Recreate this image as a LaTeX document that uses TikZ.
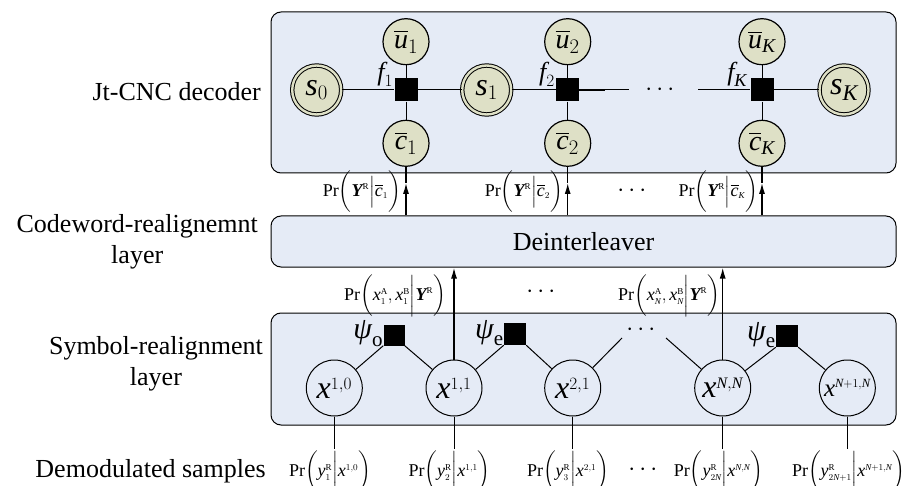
\documentclass[tikz,border=0pt]{standalone}
\usepackage{amsmath}
\usepackage{fontspec}
\setmainfont{Liberation Serif}
\usetikzlibrary{arrows.meta}

% italic and bold-italic symbols set in the text face
\newcommand{\ivar}[1]{\text{\itshape #1}}
\newcommand{\bvar}[1]{\text{\bfseries\itshape #1}}
\newcommand{\rsup}[1]{\text{\upshape #1}}

\definecolor{layerfill}{RGB}{229,235,246}
\definecolor{varfill}{RGB}{222,224,198}

\tikzset{
  layer/.style={draw, line width=1pt, rounded corners=10pt, fill=layerfill, inner sep=0pt},
  var/.style={circle, draw, line width=1.2pt, fill=varfill, minimum size=46pt, inner sep=0pt,
              font=\fontsize{28}{28}\selectfont},
  state/.style={circle, draw, line width=1pt, double=varfill, double distance=2.4pt, fill=varfill,
                minimum size=49pt, inner sep=0pt, font=\fontsize{32}{32}\selectfont},
  factor/.style={rectangle, fill=black, minimum size=23pt, inner sep=0pt},
  sym/.style={circle, draw, line width=1pt, minimum size=56pt, inner sep=0pt,
              font=\fontsize{32}{32}\selectfont},
  lab/.style={font=\fontsize{26}{31.5}\selectfont, align=center, anchor=east, inner sep=0pt},
  flab/.style={font=\fontsize{26}{26}\selectfont, inner sep=0pt},
  plab/.style={font=\fontsize{30}{30}\selectfont, inner sep=0pt},
  prob/.style={font=\fontsize{18}{18}\selectfont, inner sep=0pt},
  dotsn/.style={font=\fontsize{28}{28}\selectfont, inner sep=0pt},
  edge/.style={line width=1pt},
  arr/.style={line width=1.4pt, -{Latex[length=11pt,width=6pt]}}
}

\begin{document}
\begin{tikzpicture}[x=1pt,y=-1pt]
\useasboundingbox (0,0) rectangle (909,486);

% layer boxes
\node[layer, minimum width=625pt, minimum height=161pt] (dec) at (583.5,92.5) {};
\node[layer, minimum width=625pt, minimum height=51pt, font=\fontsize{26}{26}\selectfont]
  (deint) at (583.5,241.5) {Deinterleaver};
\node[layer, minimum width=625pt, minimum height=112pt] (symb) at (583.5,369) {};

% layer names
\node[lab] (tdec) at (261,91.7) {Jt-CNC decoder};
\node[lab] (tcw) at (258,242) {Codeword-realignemnt\\layer};
\node[lab] (tsym) at (263,364) {Symbol-realignment\\layer};
\node[lab] (tdem) at (266,471.7) {Demodulated samples};

% Jt-CNC decoder graph
\node[state] (s0) at (316.7,90) {$\ivar{s}_0$};
\node[factor] (f1) at (406,90) {};
\node[var] (u1) at (406,41.7) {$\overline{\ivar{u}}_1$};
\node[var] (c1) at (406,143.3) {$\overline{\ivar{c}}_1$};
\node[state] (s1) at (486.7,90) {$\ivar{s}_1$};
\node[factor] (f2) at (567.7,90) {};
\node[var] (u2) at (567.7,41.7) {$\overline{\ivar{u}}_2$};
\node[var] (c2) at (567.7,143.3) {$\overline{\ivar{c}}_2$};
\node[factor] (fK) at (762,90) {};
\node[var] (uK) at (762,41.7) {$\overline{\ivar{u}}_{\ivar{K}}$};
\node[var] (cK) at (762,143.3) {$\overline{\ivar{c}}_{\ivar{K}}$};
\node[state] (sK) at (844,90) {$\ivar{s}_{\ivar{K}}$};
\node[dotsn] (dd) at (662,90) {$\cdots$};

\node[flab, anchor=south east] (lf1) at ([xshift=-1pt,yshift=3pt]f1.west) {$\ivar{f}_1$};
\node[flab, anchor=south east] (lf2) at ([xshift=-1pt,yshift=3pt]f2.west) {$\ivar{f}_2$};
\node[flab, anchor=south east] (lfK) at ([xshift=-3pt,yshift=3pt]fK.west) {$\ivar{f}_{\ivar{K}}$};

\coordinate (g1) at (605,90);
\coordinate (g2) at (629,90);
\coordinate (g3) at (698,90);

\draw[edge] (s0) -- (f1);
\draw[edge] (f1) -- (s1);
\draw[edge] (s1) -- (f2);
\draw[line width=1.8pt] (f2) -- (g1);
\draw[edge] (g1) -- (g2);
\draw[edge] (g3) -- (fK);
\draw[edge] (fK) -- (sK);
\foreach \i in {1,2,K}{
  \draw[edge] (u\i) -- (f\i);
  \draw[edge] (f\i) -- (c\i);
}

% messages from the deinterleaver to the decoder
\foreach \i in {1,2,K}{
  \coordinate (a\i) at ([yshift=-16pt]c\i.south);
  \draw[arr] (c\i |- deint.north) -- (a\i);
  \draw[line width=1.4pt] (a\i) -- (c\i);
}
\node[prob, anchor=east] (p1) at (401,192)
  {$\mathrm{Pr}\biggl(\bvar{Y}^{\scriptscriptstyle\rsup{R}}\Big|\overline{\ivar{c}}_{\scriptscriptstyle 1}\biggr)$};
\node[prob, anchor=east] (p2) at (563,192)
  {$\mathrm{Pr}\biggl(\bvar{Y}^{\scriptscriptstyle\rsup{R}}\Big|\overline{\ivar{c}}_{\scriptscriptstyle 2}\biggr)$};
\node[prob, anchor=east] (pK) at (758,192)
  {$\mathrm{Pr}\biggl(\bvar{Y}^{\scriptscriptstyle\rsup{R}}\Big|\overline{\ivar{c}}_{\scriptscriptstyle\ivar{K}}\biggr)$};
\node[dotsn] (dp) at (634,191) {$\cdots$};

% symbol-realignment graph
\node[sym] (x10) at (334.3,388) {$\ivar{x}^{\scriptscriptstyle 1,0}$};
\node[sym] (x11) at (454,388) {$\ivar{x}^{\scriptscriptstyle 1,1}$};
\node[sym] (x21) at (572.7,388) {$\ivar{x}^{\scriptscriptstyle 2,1}$};
\node[sym] (xNN) at (722.7,388) {$\ivar{x}^{\scriptscriptstyle\ivar{N},\ivar{N}}$};
\node[sym, font=\fontsize{25}{25}\selectfont] (xN1N) at (847.3,388)
  {$\ivar{x}^{\scriptscriptstyle\ivar{N}+1,\ivar{N}}$};

\node[factor, minimum size=21pt] (po) at (394,335) {};
\node[factor, minimum size=22pt] (pe1) at (515,334) {};
\node[factor, minimum size=22pt] (pe2) at (787,336) {};
\node[plab, anchor=south east] (lpo) at ([yshift=-1pt]po.south west) {$\ivar{ψ}_{\mathrm{o}}$};
\node[plab, anchor=south east] (lpe1) at ([yshift=-1pt]pe1.south west) {$\ivar{ψ}_{\mathrm{e}}$};
\node[plab, anchor=south east] (lpe2) at ([yshift=-1pt]pe2.south west) {$\ivar{ψ}_{\mathrm{e}}$};
\node[dotsn] (ds) at (643,330) {$\cdots$};

\coordinate (h1) at (622,338);
\coordinate (h2) at (666,338);
\draw[edge] (x10) -- (po.south west);
\draw[edge] (po.south east) -- (x11);
\draw[edge] (x11) -- (pe1.south west);
\draw[edge] (pe1.south east) -- (x21);
\draw[edge] (x21) -- (h1);
\draw[edge] (h2) -- (xNN);
\draw[edge] (xNN) -- (pe2.south west);
\draw[edge] (pe2.south east) -- (xN1N);

% messages from the symbol layer to the deinterleaver
\draw[arr] (x11.north) -- (x11.north |- deint.south);
\draw[arr] (xNN.north) -- (xNN.north |- deint.south);
\node[prob, anchor=east] (q1) at (446,296)
  {$\mathrm{Pr}\biggl(\ivar{x}_{\scriptscriptstyle 1}^{\scriptscriptstyle\rsup{A}},\ivar{x}_{\scriptscriptstyle 1}^{\scriptscriptstyle\rsup{B}}\bigg|\bvar{Y}^{\scriptscriptstyle\rsup{R}}\biggr)$};
\node[prob, anchor=east] (qN) at (720,296)
  {$\mathrm{Pr}\biggl(\ivar{x}_{\scriptscriptstyle\ivar{N}}^{\scriptscriptstyle\rsup{A}},\ivar{x}_{\scriptscriptstyle\ivar{N}}^{\scriptscriptstyle\rsup{B}}\bigg|\bvar{Y}^{\scriptscriptstyle\rsup{R}}\biggr)$};
\node[dotsn] (dq) at (543,292) {$\cdots$};

% demodulated samples
\foreach \n/\xx in {x10/334.3, x11/454, x21/572.7, xNN/722.7, xN1N/847.3}{
  \coordinate (e\n) at (\xx,449);
  \draw[edge] (\n) -- (e\n);
}
\node[prob] (b1) at (330,472)
  {$\mathrm{Pr}\biggl(\ivar{y}_{\scriptscriptstyle 1}^{\scriptscriptstyle\rsup{R}}\bigg|\ivar{x}^{\scriptscriptstyle 1,0}\biggr)$};
\node[prob] (b2) at (449.5,472)
  {$\mathrm{Pr}\biggl(\ivar{y}_{\scriptscriptstyle 2}^{\scriptscriptstyle\rsup{R}}\bigg|\ivar{x}^{\scriptscriptstyle 1,1}\biggr)$};
\node[prob] (b3) at (568,472)
  {$\mathrm{Pr}\biggl(\ivar{y}_{\scriptscriptstyle 3}^{\scriptscriptstyle\rsup{R}}\bigg|\ivar{x}^{\scriptscriptstyle 2,1}\biggr)$};
\node[prob] (b4) at (718.5,472)
  {$\mathrm{Pr}\biggl(\ivar{y}_{\scriptscriptstyle 2\ivar{N}}^{\scriptscriptstyle\rsup{R}}\bigg|\ivar{x}^{\scriptscriptstyle\ivar{N},\ivar{N}}\biggr)$};
\node[prob] (b5) at (848.5,472)
  {$\mathrm{Pr}\biggl(\ivar{y}_{\scriptscriptstyle 2\ivar{N}+1}^{\scriptscriptstyle\rsup{R}}\bigg|\ivar{x}^{\scriptscriptstyle\ivar{N}+1,\ivar{N}}\biggr)$};
\node[dotsn] (db) at (645,470) {$\cdots$};
\end{tikzpicture}
\end{document}
